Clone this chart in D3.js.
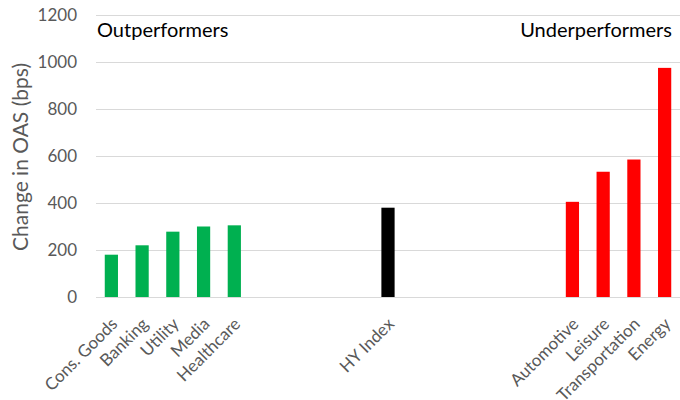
<!DOCTYPE html>
<html><head><meta charset="utf-8">
<script src="https://cdn.jsdelivr.net/npm/d3@7"></script>
<style>body{margin:0;background:#fff}svg{display:block}</style>
</head><body>
<script>
// Slots along the x axis (blank slots are gaps in the original chart)
const categories = ["Cons. Goods","Banking","Utility","Media","Healthcare","","","","","HY Index","","","","","","Automotive","Leisure","Transportation","Energy"];
const values     = [180, 220, 278, 300, 305, null, null, null, null, 380, null, null, null, null, null, 405, 533, 585, 975];
const groups     = ["out","out","out","out","out",null,null,null,null,"index",null,null,null,null,null,"under","under","under","under"];
const yTicks = [0, 200, 400, 600, 800, 1000, 1200];
const groupColors = {out: "#00b050", index: "#000000", under: "#ff0000"};

const W = 680, H = 400;
const margin = {left: 96, right: 0, top: 15, bottom: 103};
const font = "Lato, 'Open Sans', sans-serif";

const svg = d3.select("body").append("svg").attr("width", W).attr("height", H);

const x = d3.scaleBand().domain(d3.range(categories.length))
  .range([margin.left, W - margin.right]).paddingInner(0.57).paddingOuter(0.285);
const y = d3.scaleLinear().domain([0, 1200]).range([H - margin.bottom, margin.top]);

// grid
svg.append("g").selectAll("line").data(yTicks).join("line")
  .attr("x1", margin.left).attr("x2", W - margin.right)
  .attr("y1", d => Math.round(y(d)) + 0.5).attr("y2", d => Math.round(y(d)) + 0.5)
  .attr("stroke", "#d9d9d9").attr("stroke-width", 1);

// y axis labels
const yAxis = d3.axisLeft(y).tickValues(yTicks).tickFormat(d3.format("d")).tickSize(0).tickPadding(19);
const ya = svg.append("g").attr("transform", `translate(${margin.left},0)`).call(yAxis);
ya.select(".domain").remove();
ya.selectAll("text").attr("font-family", font).attr("font-size", 17).attr("fill", "#595959");

// bars
const data = categories.map((c, i) => ({i, c, v: values[i], g: groups[i]})).filter(d => d.v != null);
svg.append("g").selectAll("rect").data(data).join("rect")
  .attr("x", d => x(d.i)).attr("width", x.bandwidth())
  .attr("y", d => y(d.v)).attr("height", d => y(0) - y(d.v))
  .attr("fill", d => groupColors[d.g]);

// x axis labels
const xAxis = d3.axisBottom(x).tickFormat(i => categories[i]).tickSize(0);
const xa = svg.append("g").attr("transform", `translate(0,${y(0)})`).call(xAxis);
xa.select(".domain").remove();
xa.selectAll("text")
  .attr("font-family", font).attr("font-size", 17).attr("fill", "#595959")
  .attr("text-anchor", "end").attr("dy", null)
  .attr("transform", "translate(5,26) rotate(-45)");

// y title
svg.append("text")
  .attr("transform", `translate(28,${(y(0)+y(1200))/2 + 1}) rotate(-90)`)
  .attr("text-anchor", "middle")
  .attr("font-family", font).attr("font-size", 21).attr("fill", "#595959")
  .text("Change in OAS (bps)");

// group annotations
svg.append("text").attr("x", 97).attr("y", 37)
  .attr("font-family", font).attr("font-size", 20).attr("fill", "#000")
  .text("Outperformers");
svg.append("text").attr("x", 672).attr("y", 37).attr("text-anchor", "end")
  .attr("font-family", font).attr("font-size", 20).attr("fill", "#000")
  .text("Underperformers");
</script>
</body></html>
